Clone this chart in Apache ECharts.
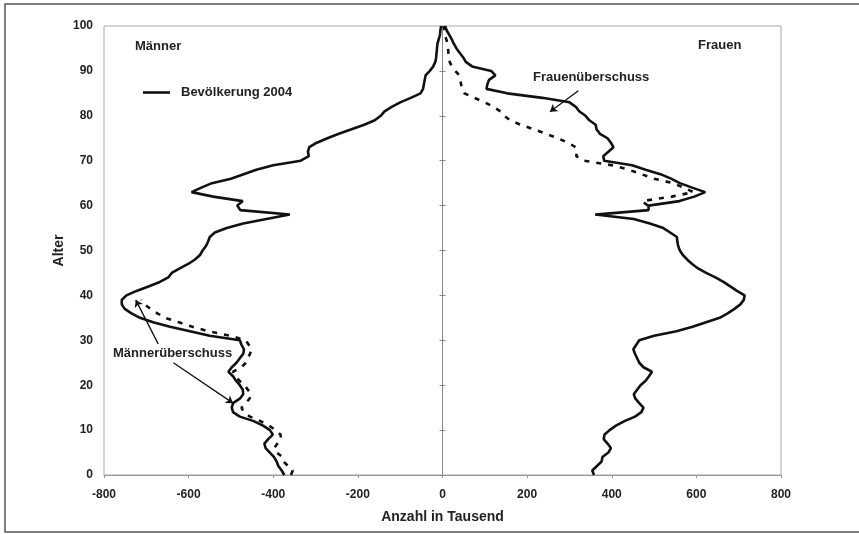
<!DOCTYPE html>
<html>
<head>
<meta charset="utf-8">
<script src="https://cdn.jsdelivr.net/npm/echarts@6/dist/echarts.min.js"></script>
<style>
  html, body { margin: 0; padding: 0; background: #fff; }
  #chart { width: 859px; height: 534px; }
</style>
</head>
<body>
<div id="chart"></div>
<script>
// Altersjahre 0 bis 100
const ages = [
  0, 1, 2, 3, 4, 5, 6, 7, 8, 9,
  10, 11, 12, 13, 14, 15, 16, 17, 18, 19,
  20, 21, 22, 23, 24, 25, 26, 27, 28, 29,
  30, 31, 32, 33, 34, 35, 36, 37, 38, 39,
  40, 41, 42, 43, 44, 45, 46, 47, 48, 49,
  50, 51, 52, 53, 54, 55, 56, 57, 58, 59,
  60, 61, 62, 63, 64, 65, 66, 67, 68, 69,
  70, 71, 72, 73, 74, 75, 76, 77, 78, 79,
  80, 81, 82, 83, 84, 85, 86, 87, 88, 89,
  90, 91, 92, 93, 94, 95, 96, 97, 98, 99,
  100
];

// Männer (in Tausend, negativ = linke Seite)
const maenner = [
  -374, -380, -388, -392, -398, -408, -418, -421, -412, -401,
  -408, -424, -446, -479, -495, -498, -495, -479, -471, -472,
  -479, -488, -495, -506, -498, -487, -479, -471, -469, -475,
  -479, -550, -597, -644, -684, -715, -735, -751, -758, -758,
  -747, -723, -695, -668, -648, -640, -621, -601, -585, -573,
  -567, -559, -554, -550, -538, -510, -471, -416, -361, -478,
  -485, -472, -542, -593, -570, -545, -500, -470, -440, -400,
  -335, -316, -318, -315, -297, -272, -245, -215, -185, -160,
  -146, -137, -120, -100, -75, -52, -46, -44, -42, -40,
  -30, -22, -17, -15, -14, -13, -12, -9, -6, -5,
  -3
];

// Frauen (in Tausend)
const frauen = [
  358, 354, 365, 376, 378, 392, 398, 390, 381, 383,
  395, 410, 430, 455, 470, 475, 465, 456, 452, 460,
  468, 480, 488, 495, 475, 465, 460, 455, 451, 458,
  465, 500, 553, 591, 623, 655, 674, 690, 704, 712,
  714, 696, 680, 664, 645, 623, 604, 590, 578, 568,
  561, 557, 555, 554, 538, 522, 490, 452, 361, 487,
  487, 560, 595, 621, 590, 561, 540, 515, 480, 448,
  382, 380, 392, 404, 398, 390, 372, 364, 362, 347,
  338, 323, 315, 300, 236, 153, 104, 106, 110, 125,
  115, 70, 55, 49, 41, 33, 27, 22, 16, 10,
  6
];

// Altersbereiche, in denen die gespiegelte Gegenseite gestrichelt gezeigt wird
const maennerUeberschussAges = [0, 39];   // Frauen gespiegelt nach links
const frauenUeberschussAges = [60, 100];  // Männer gespiegelt nach rechts

const FONT = '"Liberation Sans", Arial, sans-serif';
const INK = '#111';

function pairs(values, from, to, sign) {
  const out = [];
  for (let i = from; i <= to; i++) out.push([sign * values[i], ages[i]]);
  return out;
}

const chart = echarts.init(document.getElementById('chart'), null, { renderer: 'canvas' });

const solidStyle = { color: INK, width: 2.6 };
const dashStyle = { color: INK, width: 2.6, type: [5, 7] };

chart.setOption({
  animation: false,
  backgroundColor: '#fff',
  grid: {
    left: 104, right: 78, top: 26, bottom: 59,
    show: true, borderColor: '#aaa', borderWidth: 1, backgroundColor: 'transparent'
  },
  legend: {
    data: ['Bevölkerung 2004'],
    left: 143, top: 86, padding: 0,
    icon: 'rect',
    itemWidth: 27, itemHeight: 2.6,
    itemStyle: { color: INK },
    textStyle: { fontFamily: FONT, fontWeight: 'bold', fontSize: 13, color: '#222', padding: [0, 0, 0, 6] },
    selectedMode: false
  },
  xAxis: {
    type: 'value', min: -800, max: 800, interval: 200,
    name: 'Anzahl in Tausend', nameLocation: 'middle', nameGap: 35,
    nameTextStyle: { fontFamily: FONT, fontWeight: 'bold', fontSize: 14, color: '#222' },
    axisLine: { onZero: false, lineStyle: { color: '#999', width: 1 } },
    axisTick: { show: true, length: 3, lineStyle: { color: '#999' } },
    axisLabel: { fontFamily: FONT, fontWeight: 'bold', fontSize: 12, color: '#222', margin: 14 },
    splitLine: { show: false }
  },
  yAxis: [
    {
      type: 'value', min: 0, max: 100, interval: 10, position: 'left',
      name: 'Alter', nameLocation: 'middle', nameRotate: 90, nameGap: 38,
      nameMoveOverlap: false,
      nameTextStyle: { fontFamily: FONT, fontWeight: 'bold', fontSize: 14, color: '#222' },
      axisLine: { show: false, onZero: false },
      axisTick: { show: false },
      axisLabel: { fontFamily: FONT, fontWeight: 'bold', fontSize: 12, color: '#222', margin: 11 },
      splitLine: { show: false }
    },
    {
      type: 'value', min: 0, max: 100, interval: 10, position: 'left',
      axisLine: { show: true, onZero: true, onZeroAxisIndex: 0, lineStyle: { color: '#888', width: 1 } },
      axisTick: { show: true, length: 3, lineStyle: { color: '#888' } },
      axisLabel: { show: false },
      splitLine: { show: false }
    },
    {
      type: 'value', min: 0, max: 100, interval: 10, position: 'left',
      axisLine: { show: false, onZero: true, onZeroAxisIndex: 0 },
      axisTick: { show: true, inside: true, length: 3, lineStyle: { color: '#888' } },
      axisLabel: { show: false },
      splitLine: { show: false }
    }
  ],
  series: [
    {
      name: 'Bevölkerung 2004', type: 'line', symbol: 'none', smooth: false,
      data: pairs(maenner, 0, 100, 1), lineStyle: solidStyle, itemStyle: { color: INK },
      z: 3,
      markLine: {
        silent: true, symbol: ['none', 'arrow'], symbolSize: 7, precision: 1,
        label: { show: false },
        lineStyle: { color: INK, width: 1.3, type: 'solid' },
        emphasis: { disabled: true },
        data: [
          [{ coord: [-672, 29.2] }, { coord: [-725, 39.0] }],
          [{ coord: [-636, 25.0] }, { coord: [-495, 16.0] }],
          [{ coord: [321, 85.6] }, { coord: [254, 80.9] }]
        ]
      }
    },
    {
      name: 'Bevölkerung 2004', type: 'line', symbol: 'none', smooth: false,
      data: pairs(frauen, 0, 100, 1), lineStyle: solidStyle, itemStyle: { color: INK },
      z: 3
    },
    {
      name: 'Frauen gespiegelt', type: 'line', symbol: 'none',
      data: pairs(frauen, maennerUeberschussAges[0], maennerUeberschussAges[1], -1),
      lineStyle: dashStyle, itemStyle: { color: INK }, z: 2
    },
    {
      name: 'Männer gespiegelt', type: 'line', symbol: 'none',
      data: pairs(maenner, frauenUeberschussAges[0], frauenUeberschussAges[1], -1),
      lineStyle: dashStyle, itemStyle: { color: INK }, z: 2
    }
  ],
  graphic: [
    {
      type: 'rect', silent: true, z: 0,
      shape: { x: 5, y: 4, width: 900, height: 528 },
      style: { fill: 'none', stroke: '#555', lineWidth: 1.5 }
    },
    {
      type: 'text', silent: true,
      style: { x: 135, y: 46, text: 'Männer', font: 'bold 13px ' + FONT, fill: '#222', verticalAlign: 'middle' }
    },
    {
      type: 'text', silent: true,
      style: { x: 698, y: 45, text: 'Frauen', font: 'bold 13px ' + FONT, fill: '#222', verticalAlign: 'middle' }
    },
    {
      type: 'text', silent: true,
      style: { x: 533, y: 77, text: 'Frauenüberschuss', font: 'bold 13px ' + FONT, fill: '#222', verticalAlign: 'middle' }
    },
    {
      type: 'text', silent: true,
      style: { x: 113, y: 353, text: 'Männerüberschuss', font: 'bold 13px ' + FONT, fill: '#222', verticalAlign: 'middle' }
    }
  ]
});
</script>
</body>
</html>
